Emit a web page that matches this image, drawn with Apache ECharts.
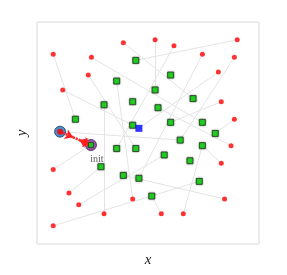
<!DOCTYPE html>
<html><head><meta charset="utf-8">
<script src="https://cdn.jsdelivr.net/npm/echarts@6/dist/echarts.min.js"></script>
<style>html,body{margin:0;padding:0;background:#fff}#c{width:287px;height:275px}</style>
</head><body><div id="c"></div>
<script>
// red points (x, y)
const redX = [3.89,0.73,2.45,2.31,1.16,5.32,6.17,9.02,7.45,8.89,8.17,8.30,8.89,0.73,1.44,1.88,3.02,0.73,4.31,8.74,8.30,8.45,5.60,6.59];
const redY = [9.07,8.55,8.41,7.61,6.94,9.20,8.93,9.20,8.55,8.41,7.75,6.41,5.62,3.36,2.30,1.77,1.36,0.82,2.03,4.43,3.64,2.03,1.36,1.36];
// green points (x, y)
const greenX = [4.45,3.59,3.02,4.31,1.73,4.31,6.02,5.32,7.03,5.45,6.02,7.45,8.03,6.45,7.45,3.59,4.45,5.73,6.89,2.88,3.89,4.59,7.31,5.17];
const greenY = [8.27,7.34,6.27,6.41,5.62,5.35,7.61,6.94,6.55,6.14,5.48,5.48,4.98,4.68,4.43,4.30,4.30,4.01,3.75,3.48,3.09,2.96,2.82,2.16];
// special points
const startPt = [1.04, 5.06];
const initPt = [2.43, 4.46];
const bluePt = [4.59, 5.21];
// links: red index -> green index (-1 = init, -2 = blue)
const linkRed   = [0,1,2,3,4,5,6,7,8,9,10,11,12,13,14,15,16,17,18,19,20,21,22,23];
const linkGreen = [8,4,11,16,5,7,15,0,21,13,-2,10,12,-1,19,17,2,22,1,9,14,20,23,14];
const startLinkGreen = 13;

function greenPt(i){ if(i===-1) return initPt; if(i===-2) return bluePt; return [greenX[i],greenY[i]]; }
const linkData = linkRed.map((r,k)=>({coords:[[redX[r],redY[r]], greenPt(linkGreen[k])]}));
linkData.push({coords:[startPt, greenPt(startLinkGreen)]});

const lerp=(a,b,t)=>[a[0]+(b[0]-a[0])*t, a[1]+(b[1]-a[1])*t];
const p1 = lerp(startPt, initPt, 0.42);
const p2 = lerp(startPt, initPt, 0.62);

const chart = echarts.init(document.getElementById('c'));
const serif = 'Liberation Serif';
chart.setOption({
  animation:false,
  grid:{left:37,right:28,top:22,bottom:31,show:true,borderColor:'#d8d8d8',borderWidth:1},
  xAxis:{type:'value',min:0,max:10,axisLine:{show:false},axisTick:{show:false},axisLabel:{show:false},splitLine:{show:false},
    name:'x',nameLocation:'middle',nameGap:9,nameTextStyle:{fontFamily:serif,fontStyle:'italic',fontSize:15,color:'#222'}},
  yAxis:{type:'value',min:0,max:10,axisLine:{show:false},axisTick:{show:false},axisLabel:{show:false},splitLine:{show:false},
    name:'y',nameLocation:'middle',nameGap:7,nameRotate:90,nameTextStyle:{fontFamily:serif,fontStyle:'italic',fontSize:15,color:'#222'}},
  series:[
    {type:'lines',coordinateSystem:'cartesian2d',data:linkData,lineStyle:{color:'#e3e3e3',width:1,opacity:1},symbol:'none',z:1,silent:true},
    {type:'scatter',data:greenX.map((x,i)=>[x,greenY[i]]),symbol:'rect',symbolSize:6,
      itemStyle:{color:'#00e000',borderColor:'#1d3d1d',borderWidth:1,shadowBlur:2,shadowColor:'rgba(0,0,0,0.45)'},z:3},
    {type:'scatter',data:redX.map((x,i)=>[x,redY[i]]),symbol:'circle',symbolSize:5,itemStyle:{color:'#ff0000'},z:3},
    {type:'scatter',data:[bluePt],symbol:'rect',symbolSize:7,itemStyle:{color:'#0000ff'},z:4},
    {type:'scatter',data:[startPt],symbol:'circle',symbolSize:11,itemStyle:{color:'#1f6fb8',borderColor:'#103a66',borderWidth:1},z:4},
    {type:'scatter',data:[initPt],symbol:'circle',symbolSize:11,itemStyle:{color:'#7a2e8e',borderColor:'#4a1757',borderWidth:1},z:4,
      label:{show:true,formatter:'init',position:'bottom',distance:3,offset:[6,0],fontFamily:serif,fontSize:10,color:'#333'}},
    {type:'lines',coordinateSystem:'cartesian2d',z:5,silent:true,
      data:[{coords:[startPt,p1]},{coords:[p1,initPt]},{coords:[initPt,p2]}],
      lineStyle:{color:'#ff2020',width:2.5,type:[2,1],opacity:1},symbol:['none','arrow'],symbolSize:8},
    {type:'scatter',data:[startPt],symbol:'circle',symbolSize:6,itemStyle:{color:'#ff0000'},z:6},
    {type:'scatter',data:[initPt],symbol:'rect',symbolSize:5,itemStyle:{color:'#00e000',borderColor:'#1d3d1d',borderWidth:1},z:6}
  ]
});
</script></body></html>
